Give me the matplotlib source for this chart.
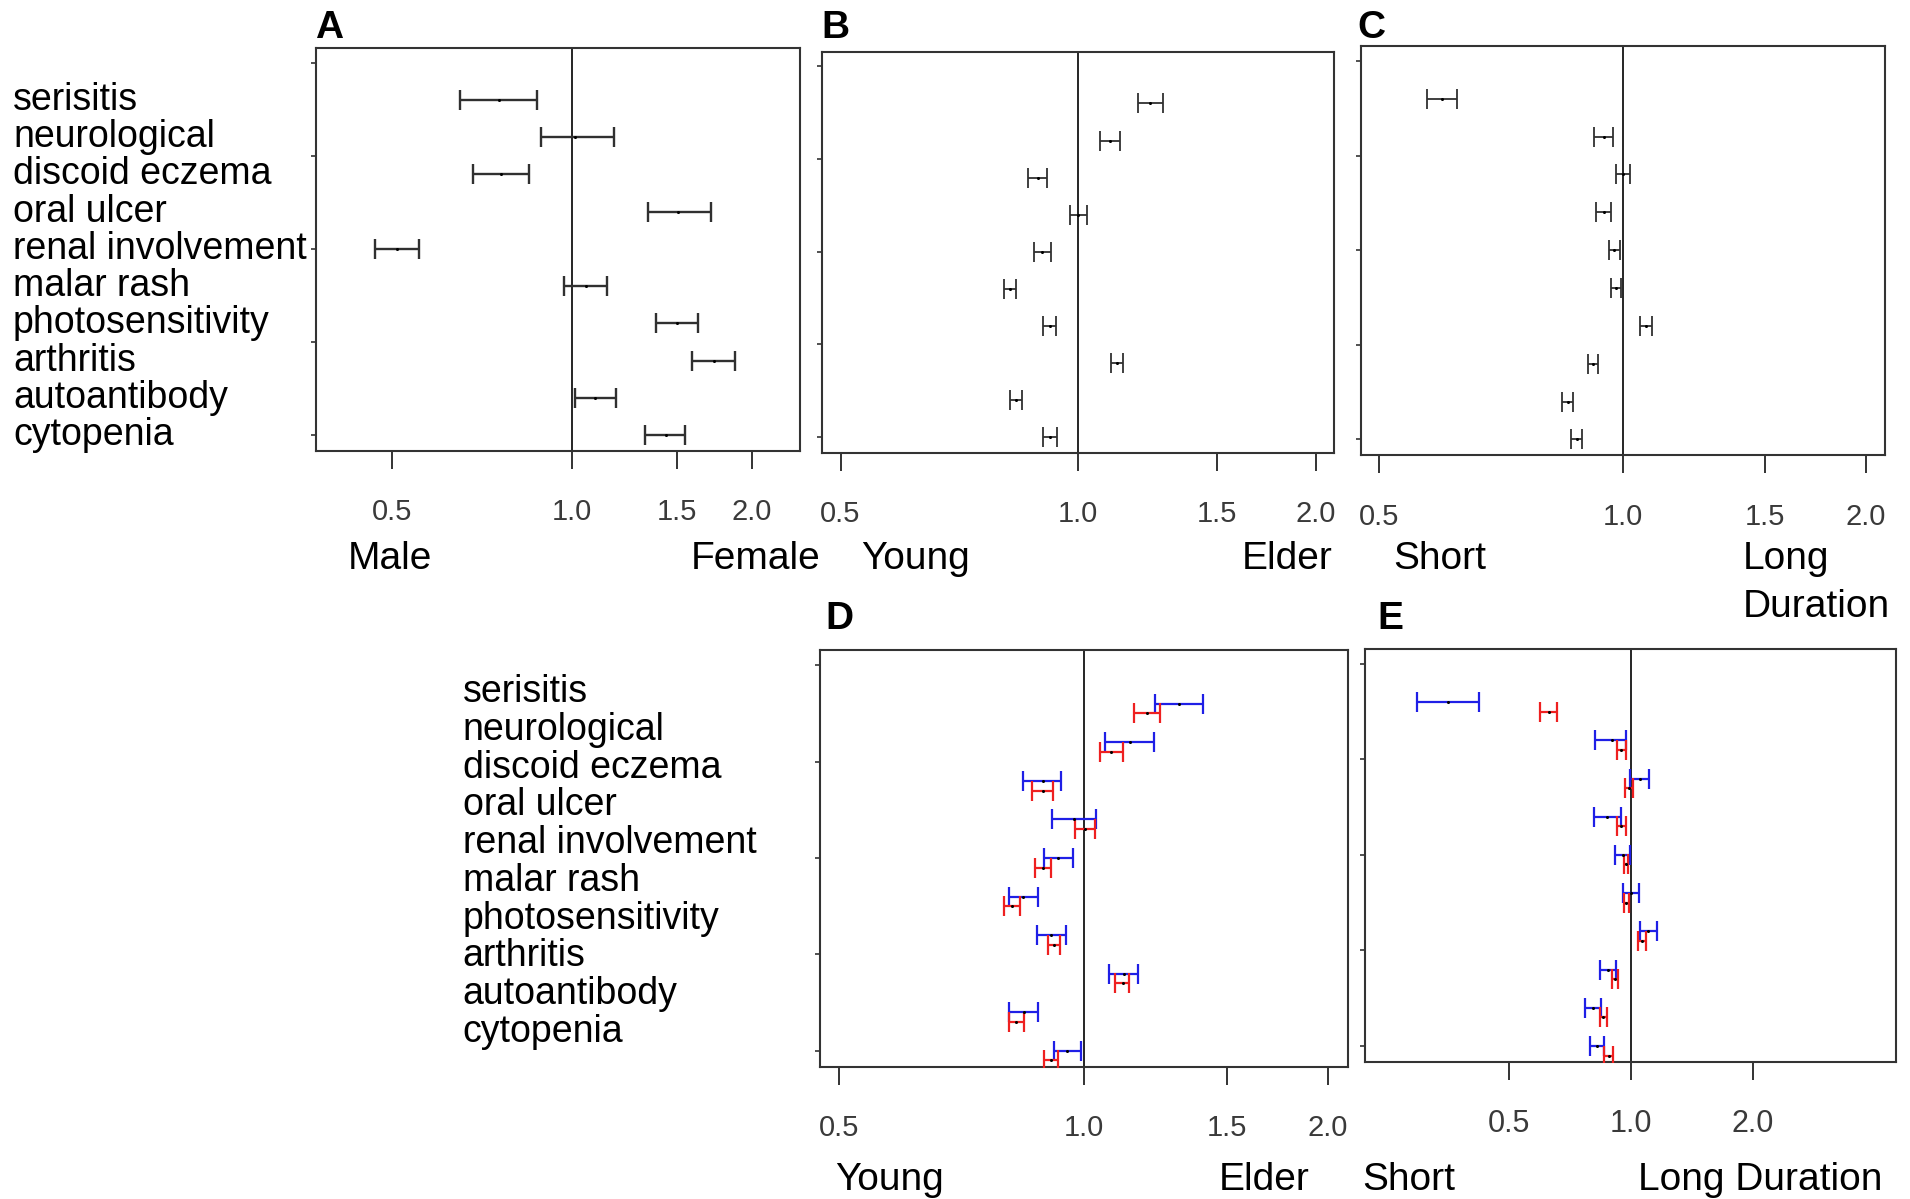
import numpy as np
import matplotlib
matplotlib.use("Agg")
import matplotlib.pyplot as plt
from matplotlib import transforms
from matplotlib.ticker import NullLocator, FixedLocator, FixedFormatter

plt.rcParams['font.family'] = ['Liberation Sans', 'DejaVu Sans']

categories = ["serisitis", "neurological", "discoid eczema", "oral ulcer",
              "renal involvement", "malar rash", "photosensitivity",
              "arthritis", "autoantibody", "cytopenia"]

# Panel A: Male vs Female
A_lo = [0.650, 0.888, 0.683, 1.337, 0.467, 0.970, 1.380, 1.589, 1.012, 1.326]
A_est = [0.754, 1.012, 0.760, 1.505, 0.508, 1.054, 1.499, 1.726, 1.093, 1.434]
A_hi = [0.874, 1.173, 0.848, 1.709, 0.553, 1.142, 1.622, 1.875, 1.184, 1.545]

# Panel B: Young vs Elder
B_lo = [1.192, 1.065, 0.865, 0.977, 0.880, 0.806, 0.904, 1.101, 0.820, 0.904]
B_est = [1.235, 1.096, 0.889, 1.000, 0.901, 0.820, 0.920, 1.121, 0.834, 0.921]
B_hi = [1.280, 1.129, 0.914, 1.025, 0.923, 0.835, 0.937, 1.141, 0.848, 0.939]

# Panel C: Short vs Long duration
C_lo = [0.573, 0.922, 0.980, 0.926, 0.962, 0.968, 1.052, 0.905, 0.842, 0.864]
C_est = [0.598, 0.947, 1.000, 0.947, 0.977, 0.982, 1.069, 0.918, 0.855, 0.877]
C_hi = [0.624, 0.972, 1.020, 0.968, 0.992, 0.996, 1.087, 0.932, 0.868, 0.891]

# Panel D: Young vs Elder, blue and red series
D_blue_lo = [1.226, 1.064, 0.843, 0.914, 0.894, 0.810, 0.875, 1.076, 0.810, 0.919]
D_blue_est = [1.310, 1.141, 0.892, 0.973, 0.931, 0.843, 0.911, 1.121, 0.844, 0.954]
D_blue_hi = [1.404, 1.220, 0.938, 1.036, 0.969, 0.879, 0.951, 1.168, 0.879, 0.993]
D_red_lo = [1.154, 1.047, 0.864, 0.977, 0.870, 0.797, 0.904, 1.094, 0.809, 0.894]
D_red_est = [1.197, 1.081, 0.892, 1.005, 0.891, 0.816, 0.919, 1.117, 0.826, 0.911]
D_red_hi = [1.242, 1.117, 0.916, 1.033, 0.911, 0.836, 0.934, 1.139, 0.844, 0.929]

# Panel E: Short vs Long duration, blue and red series
E_blue_lo = [0.297, 0.818, 0.996, 0.812, 0.916, 0.955, 1.054, 0.839, 0.769, 0.795]
E_blue_est = [0.354, 0.897, 1.054, 0.873, 0.955, 1.000, 1.105, 0.879, 0.805, 0.827]
E_blue_hi = [0.423, 0.971, 1.110, 0.943, 0.996, 1.047, 1.157, 0.920, 0.843, 0.860]
E_red_lo = [0.596, 0.924, 0.969, 0.924, 0.961, 0.961, 1.043, 0.901, 0.838, 0.860]
E_red_est = [0.627, 0.947, 0.992, 0.947, 0.972, 0.974, 1.065, 0.916, 0.855, 0.882]
E_red_hi = [0.659, 0.971, 1.015, 0.971, 0.983, 0.988, 1.087, 0.932, 0.873, 0.905]

ticks_main = [0.5, 1.0, 1.5, 2.0]
ticklabels_main = ["0.5", "1.0", "1.5", "2.0"]
ticks_E = [0.5, 1.0, 2.0]
ticklabels_E = ["0.5", "1.0", "2.0"]

W, H = 1910, 1199
fig = plt.figure(figsize=(W / 100, H / 100), dpi=100)


def add_ax(l, r, t, b):
    return fig.add_axes([l / W, 1 - b / H, (r - l) / W, (b - t) / H])


def style(ax, xlim, ticks, labels, tfs):
    ax.set_xscale('log')
    ax.set_xlim(*xlim)
    ax.set_ylim(9.42, -1.40)
    ax.xaxis.set_major_locator(FixedLocator(ticks))
    ax.xaxis.set_major_formatter(FixedFormatter(labels))
    ax.xaxis.set_minor_locator(NullLocator())
    ax.yaxis.set_major_locator(FixedLocator([-1, 1.5, 4, 6.5, 9]))
    ax.yaxis.set_minor_locator(NullLocator())
    ax.set_yticklabels([])
    ax.tick_params(axis='x', length=13, width=1.4, pad=21, labelsize=tfs,
                   labelcolor='#3a3a3a', color='#333333')
    ax.tick_params(axis='y', length=3.6, width=1.2, color='#333333')
    for s in ax.spines.values():
        s.set_linewidth(1.5)
        s.set_color('#333333')
    ax.axvline(1.0, color='black', lw=1.2, zorder=1)


def bars(ax, lo, est, hi, ypos, color, lw=1.5):
    lo = np.array(lo); est = np.array(est); hi = np.array(hi)
    ax.errorbar(est, ypos, xerr=[est - lo, hi - est], fmt='none',
                ecolor=color, elinewidth=lw, capsize=7.3, capthick=lw, zorder=3)
    ax.plot(est, ypos, 'o', ms=2.2, color='black', mec='none', zorder=4)


idx = np.arange(len(categories))

axA = add_ax(316.4, 800.1, 47.8, 450.8)
style(axA, (0.373, 2.407), ticks_main, ticklabels_main, 21)
bars(axA, A_lo, A_est, A_hi, idx, '#303030', 1.7)

axB = add_ax(821.5, 1334.0, 51.6, 452.6)
style(axB, (0.473, 2.11), ticks_main, ticklabels_main, 21)
bars(axB, B_lo, B_est, B_hi, idx, '#303030', 1.3)

axC = add_ax(1360.6, 1884.7, 45.7, 455.4)
style(axC, (0.474, 2.11), ticks_main, ticklabels_main, 21)
bars(axC, C_lo, C_est, C_hi, idx, '#303030', 1.3)

axD = add_ax(819.7, 1348.0, 649.8, 1067.0)
style(axD, (0.473, 2.117), ticks_main, ticklabels_main, 21)
bars(axD, D_blue_lo, D_blue_est, D_blue_hi, idx, '#1f1fe6', 1.6)
bars(axD, D_red_lo, D_red_est, D_red_hi, idx + 0.25, '#ee2020', 1.6)

axE = add_ax(1365.0, 1895.7, 648.6, 1062.0)
style(axE, (0.221, 4.50), ticks_E, ticklabels_E, 22)
bars(axE, E_blue_lo, E_blue_est, E_blue_hi, idx, '#1f1fe6', 1.6)
bars(axE, E_red_lo, E_red_est, E_red_hi, idx + 0.25, '#ee2020', 1.6)

# category labels
trA = transforms.blended_transform_factory(fig.transFigure, axA.transData)
for i, c in enumerate(categories):
    axA.text(13 / W, i, c, transform=trA, fontsize=27, va='center', ha='left',
             clip_on=False)
trD = transforms.blended_transform_factory(fig.transFigure, axD.transData)
label_y_D = np.linspace(-0.30, 8.51, len(categories))
for yy, c in zip(label_y_D, categories):
    axD.text(462.6 / W, yy, c, transform=trD, fontsize=27, va='center', ha='left',
             clip_on=False)


def ftext(x, y, s, **kw):
    fig.text(x / W, 1 - y / H, s, **kw)


# panel letters
for (x, y, s) in [(315, 38, "A"), (821, 38, "B"), (1357, 38, "C"),
                  (825, 629, "D"), (1377, 629, "E")]:
    ftext(x, y, s, fontsize=28, fontweight='bold', va='baseline', ha='left')

# direction labels
lab = dict(fontsize=28, va='baseline')
ftext(348, 569, "Male", ha='left', **lab)
ftext(820, 569, "Female", ha='right', **lab)
ftext(861, 569, "Young", ha='left', **lab)
ftext(1333, 569, "Elder", ha='right', **lab)
ftext(1393, 569, "Short", ha='left', **lab)
ftext(1743, 569, "Long", ha='left', **lab)
ftext(1743, 617, "Duration", ha='left', **lab)
ftext(835, 1190, "Young", ha='left', **lab)
ftext(1310, 1190, "Elder", ha='right', **lab)
ftext(1362, 1190, "Short", ha='left', **lab)
ftext(1882, 1190, "Long Duration", ha='right', **lab)

fig.savefig("out.png", dpi=100)
